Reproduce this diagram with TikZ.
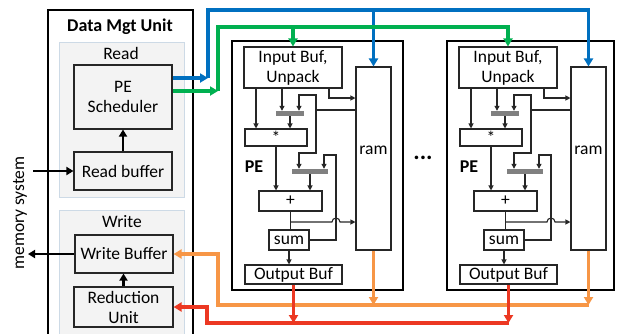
\documentclass[tikz,border=0pt]{standalone}
\usepackage{fontspec}
\setmainfont{Carlito}
\usetikzlibrary{arrows.meta, calc}
\definecolor{busblue}{RGB}{0,112,192}
\definecolor{busgreen}{RGB}{0,176,80}
\definecolor{busorange}{RGB}{247,150,70}
\definecolor{busred}{RGB}{236,56,34}
\definecolor{panelfill}{RGB}{243,243,243}
\definecolor{paneledge}{RGB}{205,218,230}

\begin{document}
\begin{tikzpicture}[x=1pt, y=-1pt,
    every node/.style={font=\fontsize{17.5}{20}\selectfont},
    lbl/.style={font=\fontsize{18}{20}\selectfont\bfseries},
    blk/.style={draw=black!85, line width=1.1pt, align=center, inner sep=0pt},
    panel/.style={draw=paneledge, fill=panelfill, line width=0.7pt},
    frame/.style={draw=black, line width=2.2pt},
    bar/.style={fill=black!50, inner sep=0pt, minimum height=5},
    w/.style={draw=black!85, line width=1.1pt},
    wa/.style={w, -{Triangle[length=5pt, width=5pt]}},
    bus/.style={line width=3.2pt},
    busa/.style={bus, -{Triangle[length=8pt, width=9pt]}},
    ar/.style={-{Triangle[length=7pt, width=8pt]}, line width=2.2pt}]
  \useasboundingbox (0,0) rectangle (618,333);

  % data management unit
  \draw[frame] (48,10) rectangle (193,340);
  \node[lbl] (dmu) at (120,27) {Data Mgt Unit};
  \draw[panel] (59,42) rectangle (184,197);
  \node (readlbl) at (121,53) {Read};
  \draw[panel] (59,210) rectangle (184,345);
  \node (writelbl) at (122,222) {Write};

  \node[blk, minimum width=98, minimum height=64] (sch) at (123,97) {PE\\Scheduler};
  \node[blk, minimum width=98, minimum height=38] (rb) at (123,171) {Read buffer};
  \node[blk, minimum width=98, minimum height=38] (wb) at (124,254) {Write Buffer};
  \node[blk, minimum width=99, minimum height=40] (redu) at (123.5,307) {Reduction\\Unit};
  \draw[ar] (rb) -- (sch);
  \draw[ar] (redu.north) -- (redu.north |- wb.south);

  % memory system
  \node[rotate=90] (mem) at (20,213) {memory system};
  \coordinate (memin) at (33,171);
  \coordinate (memout) at (28,254);
  \draw[ar] (rb.west -| memin) -- (rb.west);
  \draw[ar] (wb.west) -- (wb.west -| memout);

  % processing elements
  \foreach \s/\r/\i in {0/403/1, 215/399/2}{
  \begin{scope}[xshift=\s]
    \draw[frame] (232,41) rectangle (\r,290);
    \node[blk, minimum width=98, minimum height=41] (ib\i) at (293,67.5) {Input Buf,\\Unpack};
    \node[blk, minimum width=35, minimum height=183] (ram\i) at (373.5,158.5) {};
    \node (ramlbl\i) at (373.5,150) {ram};
    \node[bar, minimum width=28] (ma\i) at (290,113.5) {};
    \node[blk, minimum width=62, minimum height=17] (mul\i) at (276,137.5) {*};
    \node[bar, minimum width=36] (mb\i) at (310,171.5) {};
    \node[blk, minimum width=63, minimum height=20] (add\i) at (290.5,201) {+};
    \node[blk, minimum width=40, minimum height=20] (sum\i) at (289,240) {sum};
    \node[blk, minimum width=97, minimum height=19] (ob\i) at (293.5,274.5) {Output Buf};
    \node[lbl] (pe\i) at (254,167) {PE};
    \coordinate (xa) at (256,0);
    \coordinate (xb) at (282,0);
    \coordinate (xc) at (329,0);
    \coordinate (xd) at (316,0);
    \coordinate (xe) at (299,0);
    \coordinate (xg) at (336,0);
    \coordinate (xh) at (324,0);
    \coordinate (ya) at (0,98);
    \coordinate (yb) at (0,110);
    \coordinate (yc) at (0,95);
    \coordinate (yd) at (0,153);
    \coordinate (ye) at (0,155);
    \coordinate (yf) at (0,222);
    \draw[wa] (ib\i.south -| xa) -- (mul\i.north -| xa);
    \draw[wa] (ib\i.south -| xb) -- (ma\i.north -| xb);
    \draw[wa] (ib\i.south -| xc) |- (ram\i.west |- ya);
    \draw[wa] (ram\i.west |- yb) -| (xd |- yc) -| (ma\i.north -| xe);
    \draw[wa] (xd |- yb) |- (xe |- yd) -- (mb\i.north -| xe);
    \draw[wa] (ma\i.south) -- (mul\i.north -| ma\i.south);
    \draw[wa] (mul\i.south) -- (add\i.north -| mul\i.south);
    \draw[wa] (mb\i.south) -- (add\i.north -| mb\i.south);
    \draw[w] (add\i.south) -- (sum\i.north -| add\i.south);
    \draw[wa] (add\i.south |- yf) -- ($(xg |- yf)+(-4,0)$)
      arc[start angle=180, end angle=360, radius=4] -- (ram\i.west |- yf);
    \draw[wa] (sum\i.east) -| (xg |- ye) -| (mb\i.north -| xh);
    \draw[wa] (sum\i.south) -- (ob\i.north -| sum\i.south);
  \end{scope}}
  \node[font=\fontsize{24}{24}\selectfont\bfseries] (dots) at (423,158) {...};

  % buses
  \coordinate (bj) at (208,78);
  \coordinate (btop) at (0,10);
  \draw[busa, busblue] (bj -| sch.east) -- (bj);
  \draw[busa, busblue] (bj) |- (ram2.north |- btop) -- (ram2.north);
  \draw[busa, busblue] (ram1.north |- btop) -- (ram1.north);

  \coordinate (gj) at (218,91);
  \coordinate (gtop) at (0,27);
  \draw[busa, busgreen] (gj -| sch.east) -- (gj);
  \draw[busa, busgreen] (gj) |- (ib2.north |- gtop) -- (ib2.north);
  \draw[busa, busgreen] (ib1.north |- gtop) -- (ib1.north);

  \coordinate (ox) at (218,0);
  \coordinate (oy) at (0,305);
  \draw[busa, busorange] (ram1.south) -- (ram1.south |- oy);
  \draw[busa, busorange] (ram2.south) -- (ram2.south |- oy);
  \draw[busa, busorange] (ram2.south |- oy) -| (ox |- wb.east) -- (wb.east);

  \coordinate (rx) at (207,0);
  \coordinate (ry) at (0,323);
  \draw[busa, busred] (ob1.south) -- (ob1.south |- ry);
  \draw[busa, busred] (ob2.south) -- (ob2.south |- ry);
  \draw[busa, busred] (ob2.south |- ry) -| (rx |- redu.east) -- (redu.east);
\end{tikzpicture}
\end{document}
